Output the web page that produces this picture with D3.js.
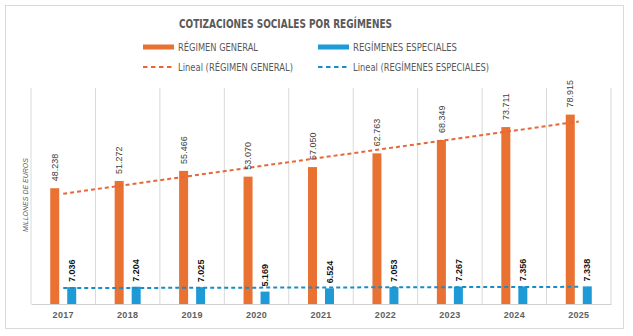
<!DOCTYPE html>
<html>
<head>
<meta charset="utf-8">
<script src="https://cdn.jsdelivr.net/npm/d3@7"></script>
<style>
  body { margin: 0; background: #fff; }
  svg { display: block; font-family: "Liberation Sans", Arial, sans-serif; }
  .narrow { font-family: "Liberation Sans Narrow", "DejaVu Sans Condensed", "Liberation Sans", sans-serif; }
</style>
</head>
<body>
<svg id="vis" width="633" height="336"></svg>
<script>
const years = ["2017", "2018", "2019", "2020", "2021", "2022", "2023", "2024", "2025"];
const general = [48238, 51272, 55466, 53070, 57050, 62763, 68349, 73711, 78915];
const especiales = [7036, 7204, 7025, 5169, 6524, 7053, 7267, 7356, 7338];
const seriesNames = ["RÉGIMEN GENERAL", "REGÍMENES ESPECIALES"];

const width = 633;
const height = 336;
const plot = { left: 31, right: 611, top: 88, bottom: 304 };
const orange = "#E97132";
const blue = "#1E9BD7";
const orangeTrend = "#E4683A";
const blueTrend = "#1A8CC6";
const textGrey = "#595959";
const barW = 9;
const offset = 8.5; // distance of each bar centre from the category centre

// spanish style thousands separator
const fmt = d3.formatLocale({ decimal: ",", thousands: ".", grouping: [3], currency: ["", "€"] }).format(",d");

const svg = d3.select("#vis");

// outer frame
svg.append("rect")
    .attr("x", 5.5).attr("y", 5.5)
    .attr("width", 618).attr("height", 323)
    .attr("fill", "#fff")
    .attr("stroke", "#d9d9d9");

const x = d3.scaleBand()
    .domain(years)
    .range([plot.left, plot.right]);

const y = d3.scaleLinear()
    .domain([0, 90000])
    .range([plot.bottom, plot.top]);

const cx = d => x(d) + x.bandwidth() / 2;

// vertical gridlines on the category boundaries
const bounds = years.map(d => x(d)).concat([plot.right]);
svg.append("g")
  .selectAll("line")
  .data(bounds)
  .enter()
  .append("line")
    .attr("x1", d => d).attr("x2", d => d)
    .attr("y1", plot.top).attr("y2", plot.bottom)
    .attr("stroke", "#d9d9d9");

// x axis
const xAxis = svg.append("g")
    .attr("transform", `translate(0, ${plot.bottom})`)
    .call(d3.axisBottom(x).tickSize(0).tickPadding(8));
xAxis.select(".domain").attr("stroke", "#d0d0d0");
xAxis.selectAll("text")
    .attr("font-size", 9)
    .attr("font-weight", "bold")
    .attr("letter-spacing", 0.3)
    .attr("fill", "#606060");

// bars
function drawBars(values, dx, color) {
  svg.append("g")
    .selectAll("rect")
    .data(values)
    .enter()
    .append("rect")
      .attr("x", (d, i) => cx(years[i]) + dx - barW / 2)
      .attr("y", d => y(d))
      .attr("width", barW)
      .attr("height", d => y(0) - y(d))
      .attr("fill", color);
}

drawBars(general, -offset, orange);
drawBars(especiales, offset, blue);

// linear trend lines (least squares over the category index, like excel)
function trend(values) {
  let n = values.length;
  let xs = values.map((d, i) => i + 1);
  let mx = d3.mean(xs), my = d3.mean(values);
  let slope = d3.sum(values, (d, i) => (xs[i] - mx) * (d - my)) / d3.sum(xs, v => (v - mx) ** 2);
  let b = my - slope * mx;
  return [0, n - 1].map(i => ({ year: years[i], value: b + slope * (i + 1) }));
}

const line = d3.line()
    .x(d => cx(d.year))
    .y(d => y(d.value));

svg.append("path")
    .attr("d", line(trend(general)))
    .attr("fill", "none")
    .attr("stroke", orangeTrend)
    .attr("stroke-width", 2)
    .attr("stroke-dasharray", "4,3");

svg.append("path")
    .attr("d", line(trend(especiales)))
    .attr("fill", "none")
    .attr("stroke", blueTrend)
    .attr("stroke-width", 2)
    .attr("stroke-dasharray", "4,3");

// data labels, rotated
function drawLabels(values, dx, gap, bold, color) {
  svg.append("g")
    .selectAll("text")
    .data(values)
    .enter()
    .append("text")
      .attr("transform", (d, i) => `translate(${cx(years[i]) + dx}, ${y(d) - gap}) rotate(-90)`)
      .attr("dy", "0.35em")
      .attr("font-size", 9)
      .attr("font-weight", bold ? "bold" : "normal")
      .attr("fill", color)
      .text(d => fmt(d));
}

drawLabels(general, -offset, 7, false, "#404040");
drawLabels(especiales, offset, 5, true, "#111");

// y axis title
svg.append("text")
    .attr("transform", "translate(26, 195) rotate(-90)")
    .attr("text-anchor", "middle")
    .attr("dy", "0.35em")
    .attr("font-size", 7)
    .attr("font-style", "italic")
    .attr("fill", textGrey)
    .text("MILLONES DE EUROS");

// title
svg.append("text")
    .attr("class", "narrow")
    .attr("x", 179).attr("y", 27.5)
    .attr("font-size", 12.5)
    .attr("font-weight", "bold")
    .attr("fill", textGrey)
    .attr("textLength", 213)
    .attr("lengthAdjust", "spacingAndGlyphs")
    .text("COTIZACIONES SOCIALES POR REGÍMENES");

// legend
const legendItems = [
  { label: seriesNames[0], color: orange, type: "bar", x: 143, y: 47, w: 80 },
  { label: seriesNames[1], color: blue, type: "bar", x: 318, y: 47, w: 104 },
  { label: `Lineal (${seriesNames[0]})`, color: orangeTrend, type: "line", x: 143, y: 67, w: 115 },
  { label: `Lineal (${seriesNames[1]})`, color: blueTrend, type: "line", x: 318, y: 67, w: 136 }
];

let legend = svg.append("g");

legendItems.forEach(item => {
  if (item.type == "bar") {
    legend.append("rect")
        .attr("x", item.x).attr("y", item.y - 2.5)
        .attr("width", 31).attr("height", 5)
        .attr("fill", item.color);
  } else {
    legend.append("line")
        .attr("x1", item.x).attr("x2", item.x + 31)
        .attr("y1", item.y).attr("y2", item.y)
        .attr("stroke", item.color)
        .attr("stroke-width", 2)
        .attr("stroke-dasharray", "4.5,3.5");
  }
  legend.append("text")
      .attr("class", "narrow")
      .attr("x", item.x + 35)
      .attr("y", item.y + 3.5)
      .attr("font-size", 10)
      .attr("fill", textGrey)
      .attr("textLength", item.w)
      .attr("lengthAdjust", "spacingAndGlyphs")
      .text(item.label);
});
</script>
</body>
</html>
